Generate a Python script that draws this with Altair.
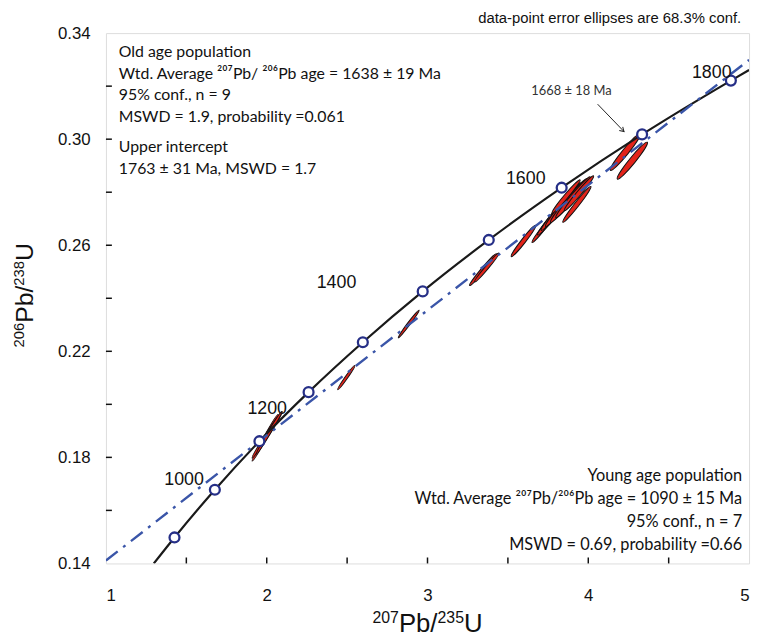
import altair as alt
import pandas as pd

# ---------------- data ----------------
# concordia age markers (Ma) and their ratios
ages = [900, 1000, 1100, 1200, 1300, 1400, 1500, 1600, 1700, 1800]
conc_x = [1.4263, 1.6774, 1.9545, 2.2603, 2.5977, 2.9701, 3.3810, 3.8344, 4.3347, 4.8869]
conc_y = [0.1498, 0.1678, 0.1861, 0.2046, 0.2234, 0.2426, 0.2620, 0.2817, 0.3018, 0.3221]
# concordia curve (markers plus where it leaves the frame)
curve_x = [1.2977] + conc_x + [5.0]
curve_y = [0.1400] + conc_y + [0.3261]

# discordia (dash-dot) line end points
disc_x = [1.0, 5.0]
disc_y = [0.1411, 0.3299]

# error ellipses: centre, length (px), minor/major ratio, tilt (deg)
ell_x = [1.990, 2.003, 2.015, 2.495, 2.883, 3.345, 3.369, 3.597,
         3.726, 3.788, 3.818, 3.849, 3.880, 3.905, 3.942, 3.929, 3.862,
         4.231, 4.274]
ell_y = [0.1874, 0.1885, 0.1893, 0.2101, 0.2303, 0.2508, 0.2516, 0.2616,
         0.2669, 0.2713, 0.2736, 0.2754, 0.2769, 0.2781, 0.2796, 0.2754, 0.2784,
         0.2952, 0.2919]
ell_len = [54, 56, 50, 30, 35, 42, 38, 40,
           40, 52, 56, 58, 58, 54, 46, 46, 44,
           48, 48]
ell_ratio = [0.06, 0.06, 0.06, 0.09, 0.08, 0.09, 0.09, 0.11,
             0.10, 0.10, 0.10, 0.10, 0.10, 0.10, 0.10, 0.10, 0.10,
             0.13, 0.13]
ell_tilt = [61, 57, 59, 55, 53, 50, 50, 52,
            52, 50, 50, 50, 50, 50, 50, 52, 50,
            51, 51]

# age labels on the concordia
age_lbl = ["1000", "1200", "1400", "1600", "1800"]
age_lbl_x = [1.486, 2.003, 2.434, 3.611, 4.768]
age_lbl_y = [0.1713, 0.1982, 0.2456, 0.2851, 0.3251]

# axis ticks
x_labels = [1, 2, 3, 4, 5]
y_labels = [0.14, 0.18, 0.22, 0.26, 0.30, 0.34]
x_minor = [1.5, 2, 2.5, 3, 3.5, 4, 4.5]
y_minor = [0.16, 0.18, 0.20, 0.22, 0.24, 0.26, 0.28, 0.30, 0.32]

old_lines = ["Old age population",
             "Wtd. Average \u00b2\u2070\u2077Pb/ \u00b2\u2070\u2076Pb age = 1638 \u00b1 19 Ma",
             "95% conf., n = 9",
             "MSWD = 1.9, probability =0.061"]
ui_lines = ["Upper intercept", "1763 \u00b1 31 Ma, MSWD = 1.7"]
young_lines = ["Young age population",
               "Wtd. Average \u00b2\u2070\u2077Pb/\u00b2\u2070\u2076Pb age = 1090 \u00b1 15 Ma",
               "95% conf., n = 7",
               "MSWD = 0.69, probability =0.66"]

# axis title pieces (mass numbers set as superscripts)
x_title_parts = ["207", "Pb/", "235", "U"]
y_title_parts = ["206", "Pb/", "238", "U"]

# ---------------- chart ----------------
W, H = 650, 536
TXT_FONT = "Lato"
AX_FONT = "Liberation Sans"

xs = alt.Scale(domain=[1, 5], nice=False, zero=False)
ys = alt.Scale(domain=[0.14, 0.34], nice=False, zero=False)
x_axis = alt.Axis(values=x_labels, format="d", tickSize=0, domain=False, grid=False,
                  labelFont=AX_FONT, labelFontSize=17, labelPadding=24, labelColor="#111",
                  title=None)
y_axis = alt.Axis(values=y_labels, format=".2f", tickSize=0, domain=False, grid=False,
                  labelFont=AX_FONT, labelFontSize=17, labelPadding=16, labelColor="#111",
                  title=None)
X = alt.X("x:Q", scale=xs, axis=x_axis)
Y = alt.Y("y:Q", scale=ys, axis=y_axis)

k = 0.5523


def ellipse_path(r):
    a = round(k * r, 4)
    r = round(r, 4)
    return (f"M-1,0C-1,{-a},{-k},{-r},0,{-r}C{k},{-r},1,{-a},1,0"
            f"C1,{a},{k},{r},0,{r}C{-k},{r},-1,{a},-1,0Z")


ell_df = pd.DataFrame({
    "x": ell_x, "y": ell_y,
    "sz": [L * L for L in ell_len],
    "shp": [ellipse_path(r) for r in ell_ratio],
    "ang": [360 - t for t in ell_tilt],
})
curve_df = pd.DataFrame({"x": curve_x, "y": curve_y})
disc_df = pd.DataFrame({"x": disc_x, "y": disc_y})
mark_df = pd.DataFrame({"x": conc_x, "y": conc_y, "age": ages})
lbl_df = pd.DataFrame({"x": age_lbl_x, "y": age_lbl_y, "t": age_lbl})
xt_df = pd.DataFrame({"x": x_minor})
yt_df = pd.DataFrame({"y": y_minor})
dummy = pd.DataFrame({"a": [0]})

base_x = alt.Chart(xt_df).mark_rule(color="#111", strokeWidth=1.5).encode(
    x=X, y=alt.value(H), y2=alt.value(H - 6))
base_y = alt.Chart(yt_df).mark_rule(color="#111", strokeWidth=1.5).encode(
    y=Y, x=alt.value(0), x2=alt.value(6))

ellipses = alt.Chart(ell_df).mark_point(
    filled=True, fill="#e2231a", stroke="#111", strokeWidth=1, opacity=1, clip=True
).encode(x=X, y=Y,
         size=alt.Size("sz:Q", scale=None),
         shape=alt.Shape("shp:N", scale=None),
         angle=alt.Angle("ang:Q", scale=None))

concordia = alt.Chart(curve_df).mark_line(
    color="#1a1a1a", strokeWidth=2.2, interpolate="monotone", clip=True
).encode(x=X, y=Y, order="x:Q")

discordia = alt.Chart(disc_df).mark_line(
    color="#3a55a8", strokeWidth=2.4, strokeDash=[15, 7, 3, 7], clip=True
).encode(x=X, y=Y)

markers = alt.Chart(mark_df).mark_point(
    shape="circle", filled=True, fill="white", stroke="#262f87",
    strokeWidth=2.3, size=100, opacity=1
).encode(x=X, y=Y)

age_text = alt.Chart(lbl_df).mark_text(
    font=AX_FONT, fontSize=18, color="#111"
).encode(x=X, y=Y, text="t:N")

# arrow for the 1668 Ma annotation
arrow_df = pd.DataFrame({"x": [4.058], "y": [0.3132], "x2": [4.222], "y2": [0.3029]})
arrow = alt.Chart(arrow_df).mark_rule(color="#222", strokeWidth=1).encode(
    x=X, y=Y, x2="x2:Q", y2="y2:Q")
head_df = pd.DataFrame({"x": [4.222], "y": [0.3029]})
head = alt.Chart(head_df).mark_point(
    shape="M-1,-0.6L0,0L-1,0.6", filled=False, stroke="#222", strokeWidth=1,
    size=70, angle=44, opacity=1
).encode(x=X, y=Y)
ann_df = pd.DataFrame({"x": [3.895], "y": [0.318], "t": ["1668 \u00b1 18 Ma"]})
ann = alt.Chart(ann_df).mark_text(font=TXT_FONT, fontSize=13, color="#333").encode(
    x=X, y=Y, text="t:N")


def text_lines(lines, x, ys_, align, size):
    out = []
    for line, yy in zip(lines, ys_):
        out.append(alt.Chart(dummy).mark_text(
            text=line, font=TXT_FONT, fontSize=size, color="#111",
            align=align, baseline="middle"
        ).encode(x=alt.value(x), y=alt.value(yy)))
    return out


blocks = []
blocks += text_lines(old_lines, 13, [19, 41, 63, 85], "left", 16)
blocks += text_lines(ui_lines, 13, [115, 137], "left", 16)
blocks += text_lines(young_lines, 643, [448, 471, 494, 517], "right", 16.5)

note = alt.Chart(dummy).mark_text(
    text="data-point error ellipses are 68.3% conf.", font=AX_FONT, fontSize=15,
    color="#111", align="right", baseline="middle"
).encode(x=alt.value(642), y=alt.value(-15))

# axis titles built from pieces: (text, font size, offset along, baseline offset)
F_X, S_X = 26, 16
F_Y, S_Y = 25, 15
ARIAL_W = {"0": .556, "1": .556, "2": .556, "3": .556, "5": .556, "6": .556,
           "7": .556, "8": .556, "P": .667, "b": .556, "/": .278, "U": .722}


def piece_width(t, size):
    return sum(ARIAL_W[c] for c in t) * size


titles = []
# x title
sizes = [S_X, F_X, S_X, F_X]
total = sum(piece_width(t, s) for t, s in zip(x_title_parts, sizes))
pos = W / 2 - total / 2
for t, s in zip(x_title_parts, sizes):
    titles.append(alt.Chart(dummy).mark_text(
        text=t, font=AX_FONT, fontSize=s, color="#111", align="left",
        baseline="alphabetic"
    ).encode(x=alt.value(pos), y=alt.value(605 if s == F_X else 596)))
    pos += piece_width(t, s)
# y title (rotated)
sizes = [S_Y, F_Y, S_Y, F_Y]
total = sum(piece_width(t, s) for t, s in zip(y_title_parts, sizes))
pos = 265 + total / 2
for t, s in zip(y_title_parts, sizes):
    titles.append(alt.Chart(dummy).mark_text(
        text=t, font=AX_FONT, fontSize=s, color="#111", align="left",
        baseline="alphabetic", angle=270
    ).encode(x=alt.value(-74 if s == F_Y else -83), y=alt.value(pos)))
    pos -= piece_width(t, s)

chart = alt.layer(
    base_x, base_y, ellipses, concordia, discordia, markers, age_text,
    arrow, head, ann, *blocks, note, *titles
).properties(
    width=W, height=H,
    autosize=alt.AutoSizeParams(type="none"),
    padding={"left": 99, "top": 22, "right": 6, "bottom": 73},
).configure_view(
    stroke="#111", strokeWidth=3
).configure(background="white")

chart.save("out.html", embed_options={"renderer": "svg", "actions": False})
